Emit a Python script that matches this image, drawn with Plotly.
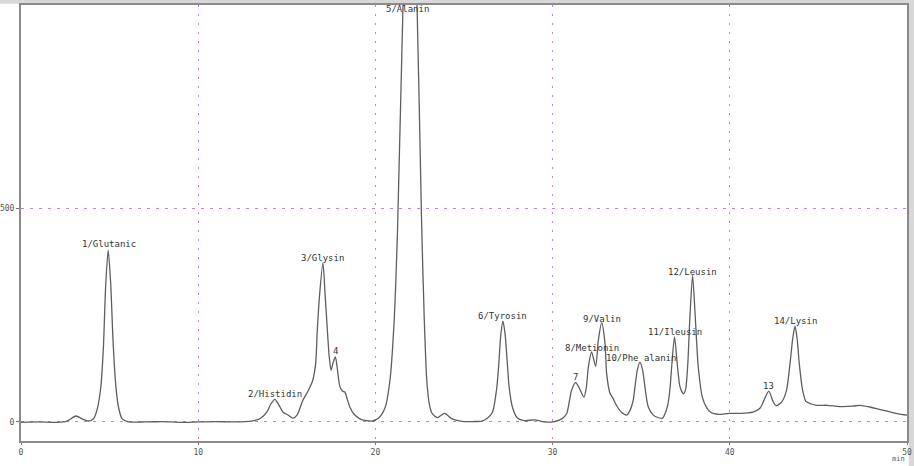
import plotly.graph_objects as go

# Chromatogram trace (retention time in min, detector signal)
time_min = [0.0, 1.0, 2.0, 2.6, 3.1, 3.5, 3.8,
            4.1, 4.3, 4.5, 4.65, 4.78, 4.92, 5.06, 5.2, 5.35, 5.5, 5.7, 6.0,
            7.0, 8.0, 9.0, 10.0, 11.0, 12.0, 13.0, 13.5, 13.9, 14.1, 14.33, 14.55, 14.8, 15.05, 15.35,
            15.6, 15.9, 16.22, 16.46, 16.63, 16.72, 16.84, 17.04, 17.17, 17.29, 17.4, 17.5, 17.62,
            17.74, 17.85, 18.0, 18.15, 18.28, 18.42, 18.57, 18.8, 19.1, 19.5, 19.8,
            20.2, 20.55, 20.82, 21.05, 21.25, 21.56, 21.95, 22.35, 22.6, 22.75, 22.9, 23.05, 23.2,
            23.5, 23.9, 24.3, 24.6, 25.0, 25.5, 26.0, 26.3,
            26.6, 26.85, 26.97, 27.08, 27.2, 27.32, 27.44, 27.55, 27.75, 28.0, 28.4, 29.0, 29.4, 30.0,
            30.4, 30.6, 30.8, 31.07, 31.3, 31.5, 31.77, 31.9, 32.02, 32.2, 32.43, 32.58, 32.77, 32.96,
            33.05, 33.24, 33.39, 33.6, 33.9, 34.18, 34.4, 34.55, 34.65, 34.78, 34.93, 35.08, 35.21,
            35.4, 35.68, 35.9, 36.2, 36.35, 36.5, 36.63, 36.72, 36.88, 37.05, 37.19, 37.38, 37.5,
            37.62, 37.75, 37.9, 38.05, 38.22, 38.45, 38.7, 38.95, 39.3, 40.0, 40.6, 41.3, 41.7, 41.93,
            42.2, 42.45, 42.62, 42.93, 43.2, 43.4, 43.55, 43.68, 43.8, 43.92, 44.11, 44.3, 44.6, 44.9,
            45.5, 46.2, 46.95, 47.35, 47.9, 48.5, 49.0, 49.5, 50.0]
signal = [-1, 0, -1, 2, 14, 6, 2,
          8, 30, 80, 175, 320, 402, 325, 185, 85, 35, 8, 1,
          0, 1, -1, 0, 1, 0, 2, 8, 25, 42, 53, 40, 22, 17, 9,
          18, 50, 74, 97, 137, 214, 292, 372, 292, 214, 150, 121, 140,
          152, 125, 82, 72, 70, 52, 34, 18, 8, 3, 2,
          10, 34, 97, 230, 450, 975, 1440, 975, 480, 250, 97, 40, 20,
          10, 20, 8, 4, 1, 1, 2, 8,
          22, 80, 140, 205, 236, 205, 140, 80, 32, 10, 3, 5, 1, 0,
          5, 10, 20, 74, 92, 80, 58, 80, 129, 164, 130, 191, 232, 183,
          113, 67, 57, 39, 22, 16, 30, 51, 82, 121, 140, 121, 82,
          35, 16, 11, 9, 20, 40, 80, 129, 199, 129, 82, 66, 75,
          129, 246, 343, 246, 129, 58, 33, 22, 18, 20, 20, 23, 32, 51,
          72, 47, 38, 47, 74, 137, 195, 224, 195, 137, 74, 48, 42, 39,
          39, 36, 37, 39, 35, 29, 24, 19, 16]

# Peak labels
peak_labels = ["1/Glutanic", "2/Histidin", "3/Glysin", "4", "5/Alanin", "6/Tyrosin", "7",
               "8/Metionin", "9/Valin", "10/Phe alanin", "11/Ileusin", "12/Leusin", "13", "14/Lysin"]
label_x = [4.99, 14.33, 17.03, 17.72, 21.81, 27.2, 31.32, 32.22, 32.79, 34.98, 36.88, 37.92, 42.21, 43.68]
label_y = [416, 65, 383, 165, 966, 247, 105, 173, 240, 149, 210, 350, 84, 235]

x_ticks = [0, 10, 20, 30, 40, 50]
y_ticks = [0, 500]

grid_col = "#d77ad7"
fig = go.Figure()
fig.add_trace(go.Scatter(x=time_min, y=signal, mode="lines",
                         line=dict(color="#5e5e5e", width=1.3, shape="spline", smoothing=0.7),
                         hoverinfo="skip", showlegend=False))

for lx, ly, lt in zip(label_x, label_y, peak_labels):
    fig.add_annotation(x=lx, y=ly, text=lt, showarrow=False, xanchor="center", yanchor="middle",
                       font=dict(family="DejaVu Sans Mono", size=9, color="#333333"))

fig.add_annotation(xref="paper", yref="paper", x=1.0, y=-0.041, text="min", showarrow=False,
                   xanchor="right", yanchor="middle",
                   font=dict(family="DejaVu Sans Mono", size=7, color="#555555"))

# surrounding grey strips
fig.add_shape(type="rect", xref="paper", yref="paper", x0=-0.05, x1=1.05, y0=1.003, y1=1.02,
              fillcolor="#d8d8d8", line_width=0, layer="below")
fig.add_shape(type="rect", xref="paper", yref="paper", x0=1.002, x1=1.02, y0=-0.1, y1=1.02,
              fillcolor="#d8d8d8", line_width=0, layer="below")

fig.update_layout(
    width=914, height=466,
    margin=dict(l=21, r=7, t=5, b=25),
    paper_bgcolor="#ffffff", plot_bgcolor="#ffffff",
    showlegend=False,
    xaxis=dict(range=[0, 50], tickvals=x_ticks, ticktext=[str(v) for v in x_ticks],
               automargin=False,
               showgrid=True, gridcolor=grid_col, griddash="2px,7px", gridwidth=1.3,
               zeroline=False, showline=True, mirror=True, linecolor="#8a8a8a", linewidth=2,
               ticks="outside", ticklen=2, tickcolor="#777777",
               tickfont=dict(family="DejaVu Sans Mono", size=8, color="#555555")),
    yaxis=dict(range=[-44.5, 975], tickvals=y_ticks, ticktext=[str(v) for v in y_ticks],
               automargin=False,
               showgrid=True, gridcolor=grid_col, griddash="3px,6px", gridwidth=1.3,
               zeroline=False, showline=True, mirror=True, linecolor="#8a8a8a", linewidth=2,
               ticks="outside", ticklen=3, tickcolor="#777777",
               tickfont=dict(family="DejaVu Sans Mono", size=8, color="#555555")),
)

fig.write_html("out.html")
